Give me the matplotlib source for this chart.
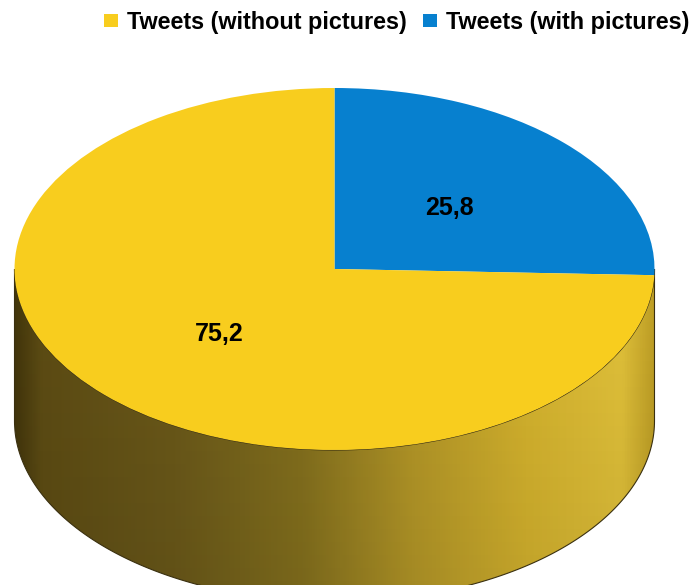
import numpy as np
import matplotlib.pyplot as plt
from matplotlib.patches import Polygon, Wedge, Rectangle
from matplotlib.colors import LinearSegmentedColormap
from matplotlib.transforms import Affine2D

plt.rcParams['font.family'] = ['Liberation Sans', 'DejaVu Sans']

labels = ["Tweets (without pictures)", "Tweets (with pictures)"]
values = [75.2, 25.8]
value_text = ["75,2", "25,8"]
colors = ["#F8CD1E", "#0780CF"]

# pie geometry (pixels)
cx, cy = 334.5, 269
rx, ry = 320, 181
depth = 152

fig = plt.figure(figsize=(6.93, 5.85), dpi=100)
ax = fig.add_axes([0, 0, 1, 1])
ax.set_xlim(0, 693)
ax.set_ylim(585, 0)
ax.axis("off")

# side of the cylinder (front half)
t = np.linspace(0, np.pi, 200)
top_x = cx + rx * np.cos(t)
top_y = cy + ry * np.sin(t)
side = np.column_stack([np.r_[top_x, top_x[::-1]], np.r_[top_y, top_y[::-1] + depth]])
side_patch = Polygon(side, closed=True, facecolor="none", edgecolor="#3a3010", lw=0.8, zorder=1.5)
ax.add_patch(side_patch)
side_cmap = LinearSegmentedColormap.from_list(
    "side", [(0, "#44370c"), (0.04, "#5e4d14"), (0.25, "#6c5a1a"), (0.45, "#86721e"),
             (0.62, "#b59828"), (0.8, "#d6b42e"), (0.95, "#e2c23a"), (1, "#c0a026")])
grad = np.linspace(0, 1, 256).reshape(1, -1)
im = ax.imshow(grad, cmap=side_cmap, aspect="auto",
               extent=(cx - rx, cx + rx, cy + ry + depth, cy - 10), zorder=1)
im.set_clip_path(side_patch)
# slight darkening towards the bottom of the side
shade = np.linspace(0, 1, 128).reshape(-1, 1)
sh = ax.imshow(shade, cmap=LinearSegmentedColormap.from_list("sh", [(0, 0, 0, 0), (0, 0, 0, 0.1)]),
               aspect="auto", extent=(cx - rx, cx + rx, cy + ry + depth, cy), zorder=1.2)
sh.set_clip_path(side_patch)

# top ellipse as wedges on a unit circle, squashed
fracs = np.array(values) / sum(values)
start = 90.0
squash = Affine2D().scale(rx, -ry).translate(cx, cy) + ax.transData
# blue slice starts at 12 o'clock going clockwise, yellow takes the rest
blue_end = start - 360 * fracs[1]
ax.add_patch(Wedge((0, 0), 1, blue_end, start, facecolor=colors[1],
                   edgecolor="none", transform=squash, zorder=2))
ax.add_patch(Wedge((0, 0), 1, start, blue_end + 360, facecolor=colors[0],
                   edgecolor="none", transform=squash, zorder=2))

# value labels at half radius along mid angles
mids = [blue_end - 180 * fracs[0], start - 180 * fracs[1]]
for txt, m in zip(value_text, mids):
    a = np.deg2rad(m)
    ax.text(cx + 0.5 * rx * np.cos(a), cy - 0.5 * ry * np.sin(a) + 2, txt,
            ha="center", va="center", fontsize=18, fontweight="bold", zorder=3)

# legend
for x0, lab, c in [(104, labels[0], colors[0]), (423, labels[1], colors[1])]:
    ax.add_patch(Rectangle((x0, 13.5), 13.5, 13.5, facecolor=c, edgecolor="none"))
    ax.text(x0 + 23, 29.3, lab, ha="left", va="baseline", fontsize=16.8, fontweight="bold")

fig.savefig("out.png", dpi=100)
